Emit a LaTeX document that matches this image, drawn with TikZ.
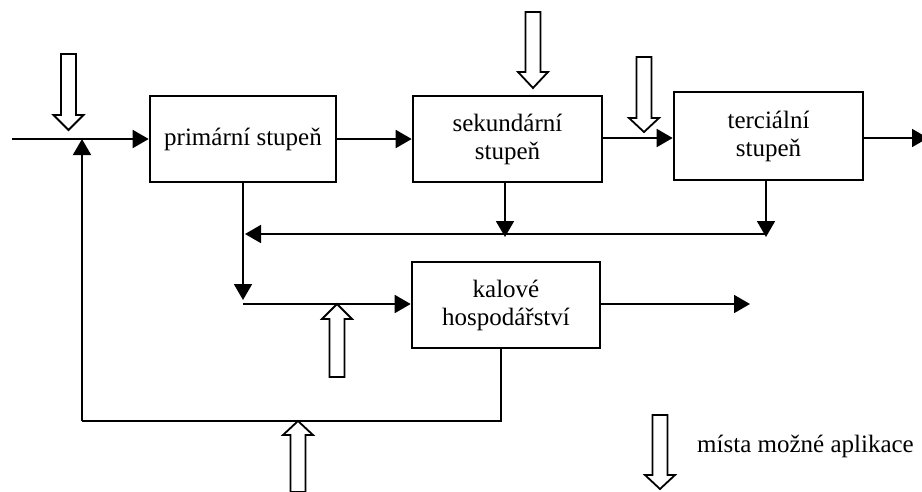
\documentclass[tikz,border=0pt]{standalone}
\usepackage{fontspec}
\setmainfont{Liberation Serif}
\usetikzlibrary{arrows.meta}
\begin{document}
\begin{tikzpicture}[x=1pt,y=-1pt,
  box/.style={draw,line width=2.6pt,minimum width=188pt,minimum height=86pt,inner sep=0pt,align=center,font=\fontsize{25}{28}\selectfont},
  conn/.style={line width=1.8pt,-{Triangle[length=16pt,width=18pt]}},
  plain/.style={line width=1.8pt},
  openarrow/.style={draw,line width=1.8pt,fill=white,line join=miter}]
\useasboundingbox (0,0) rectangle (922,491);
\newcommand\openarr[4]{\draw[openarrow] ({#1-7.5},#2) -- ({#1-7.5},#3) -- ({#1-15},#3) -- (#1,#4) -- ({#1+15},#3) -- ({#1+7.5},#3) -- ({#1+7.5},#2) -- cycle;}
% boxes
\node[box,minimum width=186pt] (prim) at (243,139) {primární stupeň};
\node[box,minimum width=189pt] (sec) at (507.5,139) {sekundární\\stupeň};
\node[box,minimum width=189pt,minimum height=88pt] (ter) at (768.5,136) {terciální\\stupeň};
\node[box] (kal) at (506,305) {kalové\\hospodářství};
% coordinates
\coordinate (in) at (12,139);
\coordinate (out) at (928,138);
\coordinate (j1) at (243,300);
\coordinate (j2) at (243,304);
\coordinate (h1) at (243,234);
\coordinate (hr) at (766,234);
\coordinate (sd) at (505,234);
\coordinate (kout) at (750,304);
\coordinate (fb1) at (501,421);
\coordinate (fb2) at (82,421);
\coordinate (fbtop) at (82,139);
% connectors
\draw[conn] (in) -- (prim.west);
\draw[conn] (prim.east) -- (sec.west);
\draw[conn] (sec.east |- 0,138) -- (ter.west |- 0,138);
\draw[conn] (ter.east |- out) -- (out);
\draw[conn] (prim.south) -- (j1);
\draw[conn] (j2) -- (kal.west |- j2);
\draw[conn] (sd |- sec.south) -- ([yshift=-3pt]sd);
\draw[conn] (hr |- ter.south) -- ([yshift=-3pt]hr);
\draw[conn] (hr) -- ([xshift=2pt]h1);
\draw[conn] (kal.east |- kout) -- (kout);
\draw[plain] (fb1 |- kal.south) -- (fb1) -- (fb2);
\draw[conn] (fb2) -- (fbtop);
% open arrows (application points)
\openarr{68.5}{54}{115}{130}
\openarr{533}{12}{72}{88}
\openarr{644}{57}{118}{132}
\openarr{337}{377}{319}{304}
\openarr{298}{492}{435}{421}
\openarr{660}{415}{475}{489}
% legend
\node[anchor=west,inner sep=0pt,font=\fontsize{25}{28}\selectfont] (leg) at (697,446) {místa možné aplikace};
\end{tikzpicture}
\end{document}
